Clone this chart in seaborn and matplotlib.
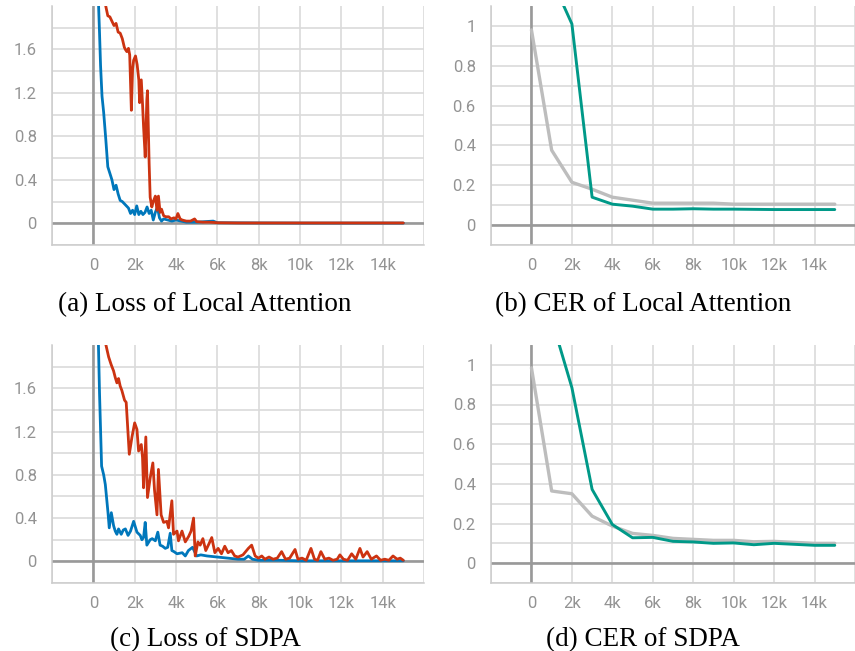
import numpy as np
import pandas as pd
import seaborn as sns
import matplotlib.pyplot as plt

# loss of local attention (a)
steps_a_blue = [0, 100, 200, 300, 350, 420, 500, 600, 700, 800, 900, 1000, 1100, 1200, 1300, 1400,
                1500, 1600, 1700, 1800, 1900, 2000, 2100, 2200, 2300, 2400, 2500, 2600, 2700,
                2800, 2900, 3000, 3100, 3200, 3300, 3400, 3600, 3800, 4000, 4500, 5000, 5800,
                6000, 8000, 10000, 12000, 14000, 15000]
loss_a_blue = [3.5, 2.9, 2.3, 1.75, 1.45, 1.17, 1.02, 0.78, 0.52, 0.46, 0.40, 0.31, 0.35, 0.27,
               0.21, 0.20, 0.18, 0.16, 0.14, 0.09, 0.12, 0.08, 0.16, 0.08, 0.11, 0.08, 0.10,
               0.15, 0.09, 0.12, 0.03, 0.10, 0.15, 0.05, 0.02, 0.04, 0.03, 0.02, 0.03, 0.01,
               0.01, 0.02, 0.005, 0.003, 0.002, 0.002, 0.002, 0.002]
steps_a_red = [500, 600, 700, 800, 900, 1000, 1100, 1200, 1300, 1400, 1500, 1550, 1620, 1700,
               1760, 1840, 1900, 1950, 2040, 2120, 2200, 2240, 2320, 2380, 2430, 2510, 2590,
               2620, 2700, 2750, 2830, 2900, 3000, 3080, 3150, 3230, 3300, 3400, 3500, 3650,
               3750, 3900, 4000, 4090, 4200, 4300, 4500, 4700, 4900, 5000, 5300, 5600, 5800,
               6000, 7000, 8000, 9000, 10000, 11000, 12000, 13000, 14000, 15000]
loss_a_red = [2.08, 2.0, 1.91, 1.90, 1.86, 1.82, 1.84, 1.76, 1.75, 1.70, 1.62, 1.60, 1.58, 1.61,
              1.55, 1.04, 1.42, 1.50, 1.54, 1.46, 1.32, 1.11, 1.32, 1.10, 0.89, 0.61, 1.14,
              1.22, 0.55, 0.24, 0.15, 0.20, 0.25, 0.12, 0.25, 0.10, 0.13, 0.07, 0.06, 0.06,
              0.04, 0.05, 0.04, 0.09, 0.04, 0.03, 0.02, 0.02, 0.04, 0.015, 0.01, 0.01, 0.008,
              0.005, 0.003, 0.003, 0.003, 0.003, 0.003, 0.003, 0.003, 0.003, 0.003]

# loss of SDPA (c)
steps_c_blue = [0, 100, 200, 300, 400, 500, 580, 710, 770, 870, 980, 1060, 1140, 1220, 1350,
                1450, 1550, 1680, 1800, 1950, 2110, 2270, 2350, 2430, 2510, 2590, 2750, 2850,
                3000, 3120, 3230, 3350, 3480, 3600, 3720, 3800, 3900, 4050, 4300, 4450, 4600,
                4800, 5000, 5200, 5500, 6000, 6500, 7000, 7300, 7500, 7700, 8000, 9000, 10000,
                11000, 12000, 13000, 14000, 15000]
loss_c_blue = [3.5, 2.9, 2.4, 1.55, 0.88, 0.80, 0.71, 0.45, 0.31, 0.45, 0.33, 0.28, 0.25, 0.30,
               0.25, 0.29, 0.30, 0.24, 0.28, 0.37, 0.27, 0.24, 0.20, 0.22, 0.36, 0.15, 0.20,
               0.21, 0.19, 0.27, 0.15, 0.14, 0.12, 0.13, 0.26, 0.10, 0.09, 0.07, 0.08, 0.05,
               0.10, 0.13, 0.05, 0.06, 0.05, 0.04, 0.03, 0.02, 0.02, 0.05, 0.02, 0.01, 0.01,
               0.005, 0.005, 0.005, 0.005, 0.005, 0.005]
steps_c_red = [500, 610, 740, 860, 980, 1060, 1140, 1220, 1300, 1380, 1510, 1590, 1740, 1870,
               2000, 2110, 2190, 2320, 2380, 2430, 2540, 2620, 2750, 2880, 2960, 3080, 3150,
               3280, 3400, 3560, 3640, 3800, 3880, 4050, 4120, 4290, 4450, 4610, 4730, 4850,
               4930, 5060, 5170, 5300, 5440, 5590, 5730, 5880, 6040, 6200, 6360, 6520, 6680,
               6840, 7000, 7240, 7500, 7660, 7830, 7990, 8150, 8300, 8500, 8700, 8900, 9110,
               9300, 9500, 9760, 9900, 10100, 10300, 10530, 10700, 10850, 11010, 11200, 11400,
               11600, 11800, 11930, 12100, 12300, 12500, 12700, 12900, 13050, 13250, 13450,
               13700, 13900, 14100, 14300, 14500, 14700, 14850, 15000]
loss_c_red = [2.1, 2.0, 1.89, 1.82, 1.76, 1.70, 1.65, 1.69, 1.62, 1.58, 1.49, 1.47, 0.99, 1.15,
              1.28, 1.22, 1.02, 1.08, 0.96, 0.68, 1.15, 0.59, 0.77, 0.91, 0.66, 0.43, 0.85,
              0.43, 0.36, 0.37, 0.31, 0.56, 0.25, 0.28, 0.19, 0.28, 0.18, 0.23, 0.28, 0.40,
              0.05, 0.18, 0.15, 0.21, 0.10, 0.16, 0.22, 0.08, 0.12, 0.07, 0.14, 0.08, 0.10,
              0.05, 0.04, 0.06, 0.12, 0.15, 0.05, 0.03, 0.05, 0.02, 0.04, 0.02, 0.03, 0.09,
              0.02, 0.03, 0.11, 0.02, 0.03, 0.01, 0.12, 0.02, 0.01, 0.09, 0.02, 0.03,
              0.01, 0.02, 0.06, 0.02, 0.01, 0.07, 0.02, 0.12, 0.04, 0.09, 0.02,
              0.05, 0.01, 0.02, 0.01, 0.05, 0.02, 0.03, 0.01]

# CER curves, evaluated every 1k steps
cer_steps = [0, 1000, 2000, 3000, 4000, 5000, 6000, 7000, 8000, 9000, 10000, 11000, 12000,
             13000, 14000, 15000]
cer_b_gray = [0.98, 0.376, 0.215, 0.18, 0.14, 0.125, 0.11, 0.11, 0.11, 0.11, 0.105, 0.105,
              0.105, 0.105, 0.105, 0.105]
cer_b_teal = [1.5, 1.235, 1.01, 0.14, 0.105, 0.095, 0.08, 0.08, 0.082, 0.08, 0.08, 0.079,
              0.078, 0.078, 0.078, 0.078]
cer_d_gray = [0.985, 0.364, 0.35, 0.237, 0.187, 0.15, 0.14, 0.125, 0.12, 0.115, 0.115, 0.108,
              0.11, 0.105, 0.1, 0.1]
cer_d_teal = [1.5, 1.23, 0.885, 0.372, 0.195, 0.128, 0.13, 0.11, 0.107, 0.1, 0.102, 0.093,
              0.1, 0.095, 0.09, 0.09]

captions = ["(a) Loss of Local Attention", "(b) CER of Local Attention",
            "(c) Loss of SDPA", "(d) CER of SDPA"]

x_ticks = [-2000, 0, 2000, 4000, 6000, 8000, 10000, 12000, 14000, 16000]
x_labels = ["", "0", "2k", "4k", "6k", "8k", "10k", "12k", "14k", ""]
loss_ticks = [-0.2, 0, 0.2, 0.4, 0.6, 0.8, 1.0, 1.2, 1.4, 1.6, 1.8]
loss_labels = ["", "0", "", "0.4", "", "0.8", "", "1.2", "", "1.6", ""]
cer_ticks = [-0.1, 0, 0.1, 0.2, 0.3, 0.4, 0.5, 0.6, 0.7, 0.8, 0.9, 1.0]
cer_labels = ["", "0", "", "0.2", "", "0.4", "", "0.6", "", "0.8", "", "1"]

BLUE, RED, TEAL, GRAY = "#0077bb", "#cc3311", "#009988", "#bdbdbd"

sns.set_theme(style="white")
plt.rcParams["font.family"] = ["Roboto", "DejaVu Sans"]

W, H = 855, 651
fig = plt.figure(figsize=(W / 100, H / 100), dpi=100)


def make_ax(left, top, right, bottom):
    return fig.add_axes([left / W, 1 - bottom / H, (right - left) / W, (bottom - top) / H])


def style(ax, ylim, yticks, ylabels, xlim):
    ax.set_xlim(*xlim)
    ax.set_ylim(*ylim)
    ax.set_xticks(x_ticks)
    ax.set_xticklabels(x_labels)
    ax.set_yticks(yticks)
    ax.set_yticklabels(ylabels)
    ax.grid(True, color="#dadada", lw=1.2, zorder=0)
    ax.axhline(0, color="#999999", lw=1.9, zorder=1)
    ax.axvline(0, color="#999999", lw=1.9, zorder=1)
    for s in ["top", "right"]:
        ax.spines[s].set_visible(False)
    for s in ["left", "bottom"]:
        ax.spines[s].set_color("#cccccc")
        ax.spines[s].set_linewidth(1.1)
    ax.tick_params(axis="both", colors="#cccccc", length=4, width=1.1,
                   labelcolor="#939393", labelsize=12)
    ax.tick_params(axis="y", pad=7)
    ax.tick_params(axis="x", pad=5)
    ax.set_xlabel("")
    ax.set_ylabel("")
    if ax.get_legend() is not None:
        ax.get_legend().remove()


def draw(ax, xs, ys, color, z, lw=2.0):
    df = pd.DataFrame({"step": xs, "value": ys})
    sns.lineplot(data=df, x="step", y="value", ax=ax, color=color, lw=lw,
                 zorder=z, estimator=None)


ax_a = make_ax(52, 6, 424, 245)
draw(ax_a, steps_a_blue, loss_a_blue, BLUE, 3)
draw(ax_a, steps_a_red, loss_a_red, RED, 4)
style(ax_a, (-0.2, 2.0), loss_ticks, loss_labels, (-2000, 16000))

ax_b = make_ax(491, 6, 855, 245)
draw(ax_b, cer_steps, cer_b_gray, GRAY, 3, lw=2.4)
draw(ax_b, cer_steps, cer_b_teal, TEAL, 4, lw=2.1)
style(ax_b, (-0.1, 1.1), cer_ticks, cer_labels, (-2000, 15550))

ax_c = make_ax(52, 345, 424, 583)
draw(ax_c, steps_c_blue, loss_c_blue, BLUE, 3)
draw(ax_c, steps_c_red, loss_c_red, RED, 4)
style(ax_c, (-0.2, 2.0), loss_ticks, loss_labels, (-2000, 16000))

ax_d = make_ax(491, 345, 855, 583)
draw(ax_d, cer_steps, cer_d_gray, GRAY, 3, lw=2.4)
draw(ax_d, cer_steps, cer_d_teal, TEAL, 4, lw=2.1)
style(ax_d, (-0.1, 1.1), cer_ticks, cer_labels, (-2000, 15550))

cap_font = dict(family=["Liberation Serif", "DejaVu Serif"], fontsize=19.5, color="black",
                ha="center", va="baseline")
fig.text(205 / W, 1 - 311 / H, captions[0], **cap_font)
fig.text(643 / W, 1 - 311 / H, captions[1], **cap_font)
fig.text(205 / W, 1 - 646 / H, captions[2], **cap_font)
fig.text(643 / W, 1 - 646 / H, captions[3], **cap_font)

fig.savefig("out.png", dpi=100)
